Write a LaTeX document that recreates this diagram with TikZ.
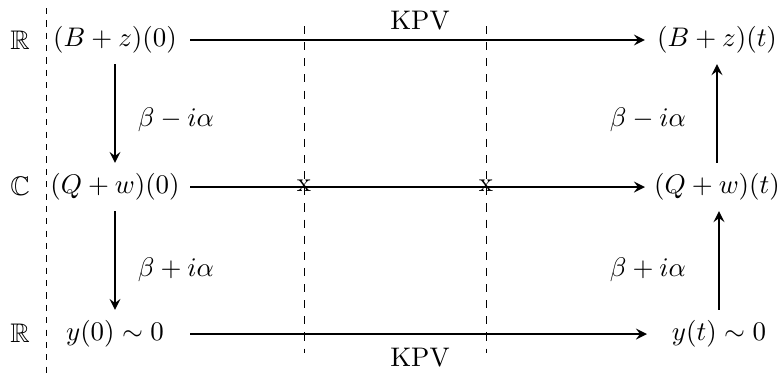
\documentclass[tikz,border=0pt]{standalone}
\usepackage{amssymb}
\begin{document}
\begin{tikzpicture}[x=0.372pt,y=-0.372pt,
  lft/.style={inner sep=0pt,outer sep=0pt,minimum width=55.8pt,minimum height=17.9pt},
  rgt/.style={inner sep=0pt,outer sep=0pt,minimum width=53.6pt,minimum height=17.9pt},
  arr/.style={thick,-stealth},
  sep/.style={dashed,line width=0.35pt}]
\useasboundingbox (0,0) rectangle (782,373);
% field labels
\node (r1) at (20,40) {$\mathbb{R}$};
\node (c1) at (20,186) {$\mathbb{C}$};
\node (r2) at (20,333) {$\mathbb{R}$};
% dashed separators
\coordinate (d1t) at (46,8); \coordinate (d1b) at (46,373);
\coordinate (d2t) at (304,26); \coordinate (d2b) at (304,353);
\coordinate (d3t) at (486,26); \coordinate (d3b) at (486,353);
\draw[sep,dash pattern=on 2.3pt off 2.3pt] (d1t) -- (d1b);
\draw[sep] (d2t) -- (d2b);
\draw[sep] (d3t) -- (d3b);
% left column
\node[lft] (a0) at (115,40) {$(B+z)(0)$};
\node[lft] (b0) at (115,187) {$(Q+w)(0)$};
\node[lft] (c0) at (115,334) {$y(0)\sim 0$};
% right column
\node[rgt] (at) at (717,40) {$(B+z)(t)$};
\node[rgt] (bt) at (717,187) {$(Q+w)(t)$};
\node[rgt] (ct) at (719,334) {$y(t)\sim 0$};
% horizontal arrows
\draw[arr] (a0) -- (at);
\draw[arr] (b0) -- (bt);
\draw[arr] (c0) -- (ct);
\node (k1) at (420,21) {KPV};
\node (k2) at (420,358) {KPV};
% crossing marks
\node[inner sep=0pt] (x1) at (304,186) {x};
\node[inner sep=0pt] (x2) at (486,186) {x};
% vertical arrows
\draw[arr] (a0) -- (b0);
\draw[arr] (b0) -- (c0);
\draw[arr] (bt.north -| at) -- (at);
\draw[arr] (ct) -- (bt.south -| ct);
\node (l1) at (176,120) {$\beta-i\alpha$};
\node (l2) at (176,270) {$\beta+i\alpha$};
\node (l3) at (648,120) {$\beta-i\alpha$};
\node (l4) at (648,270) {$\beta+i\alpha$};
\end{tikzpicture}
\end{document}
